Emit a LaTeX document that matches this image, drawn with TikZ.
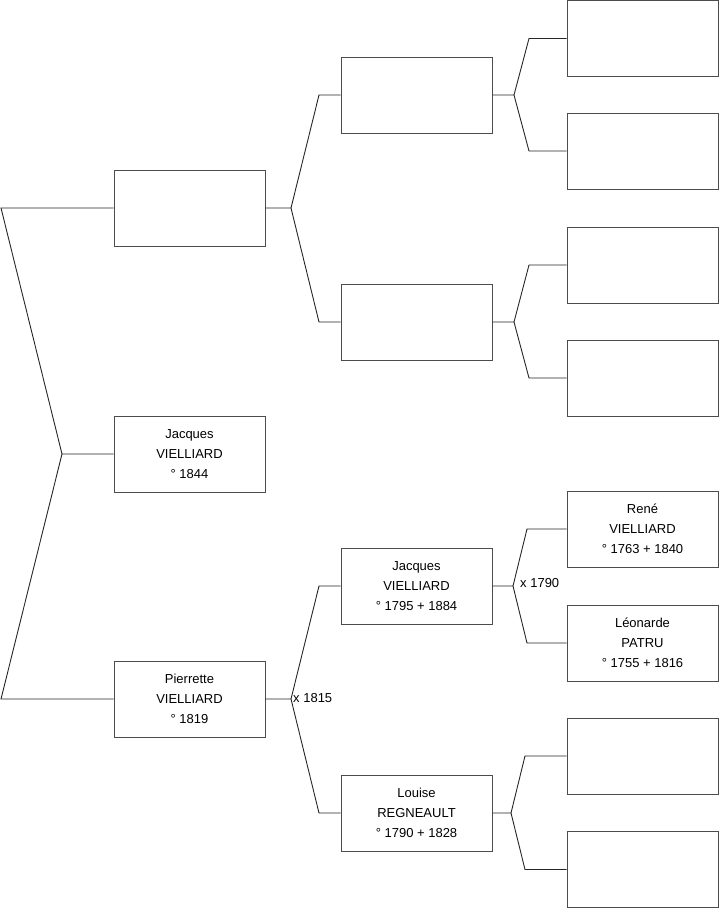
\documentclass[tikz,border=0pt]{standalone}
\usepackage{fontspec}
\setmainfont{Liberation Sans}
\begin{document}
\begin{tikzpicture}[x=1pt,y=-1pt,
  person/.style={draw=black!70, line width=1pt, minimum width=151pt, minimum height=76pt, inner sep=0pt, align=center, font=\fontsize{13pt}{20pt}\selectfont},
  link/.style={draw=black!85, line width=0.9pt},
  marr/.style={inner sep=0pt, font=\fontsize{13pt}{16pt}\selectfont}]
\useasboundingbox (0,0) rectangle (719,908);
% column 1
\node[person] (f)  at (189.5,208) {};
\node[person] (j)  at (189.5,454) {Jacques\\VIELLIARD\\° 1844};
\node[person] (m)  at (189.5,699) {Pierrette\\VIELLIARD\\° 1819};
% column 2
\node[person] (ff) at (416.5,95)  {};
\node[person] (fm) at (416.5,322) {};
\node[person] (mf) at (416.5,586) {Jacques\\VIELLIARD\\° 1795 + 1884};
\node[person] (mm) at (416.5,813) {Louise\\REGNEAULT\\° 1790 + 1828};
% column 3
\node[person] (fff) at (642.5,38.5) {};
\node[person] (ffm) at (642.5,151) {};
\node[person] (fmf) at (642.5,265) {};
\node[person] (fmm) at (642.5,378) {};
\node[person] (mff) at (642.5,529) {René\\VIELLIARD\\° 1763 + 1840};
\node[person] (mfm) at (642.5,643) {Léonarde\\PATRU\\° 1755 + 1816};
\node[person] (mmf) at (642.5,756) {};
\node[person] (mmm) at (642.5,869.5) {};
% root fork
\coordinate (ra) at (62,454);
\coordinate (r1) at (1,208);
\coordinate (r2) at (1,699);
\draw[link] (j.west) -- (ra) -- (r1) -- (f.west);
\draw[link] (ra) -- (r2) -- (m.west);
% column 1 -> column 2 forks
\coordinate (fa) at (291,208);
\coordinate (fa1) at (319,95);
\coordinate (fa2) at (319,322);
\draw[link] (f.east) -- (fa) -- (fa1) -- (ff.west);
\draw[link] (fa) -- (fa2) -- (fm.west);
\coordinate (ma) at (291,699);
\coordinate (ma1) at (319,586);
\coordinate (ma2) at (319,813);
\draw[link] (m.east) -- (ma) -- (ma1) -- (mf.west);
\draw[link] (ma) -- (ma2) -- (mm.west);
% column 2 -> column 3 forks
\coordinate (ffa) at (514,95);
\coordinate (ffa1) at (529,38.5);
\coordinate (ffa2) at (529,151);
\draw[link] (ff.east) -- (ffa) -- (ffa1) -- (fff.west);
\draw[link] (ffa) -- (ffa2) -- (ffm.west);
\coordinate (fma) at (514,322);
\coordinate (fma1) at (529,265);
\coordinate (fma2) at (529,378);
\draw[link] (fm.east) -- (fma) -- (fma1) -- (fmf.west);
\draw[link] (fma) -- (fma2) -- (fmm.west);
\coordinate (mfa) at (513,586);
\coordinate (mfa1) at (527,529);
\coordinate (mfa2) at (527,643);
\draw[link] (mf.east) -- (mfa) -- (mfa1) -- (mff.west);
\draw[link] (mfa) -- (mfa2) -- (mfm.west);
\coordinate (mma) at (511,813);
\coordinate (mma1) at (525,756);
\coordinate (mma2) at (525,869.5);
\draw[link] (mm.east) -- (mma) -- (mma1) -- (mmf.west);
\draw[link] (mma) -- (mma2) -- (mmm.west);
% marriage labels
\node[marr, anchor=west] (x1815) at (293,698) {x 1815};
\node[marr, anchor=west] (x1790) at (520,583) {x 1790};
\end{tikzpicture}
\end{document}
